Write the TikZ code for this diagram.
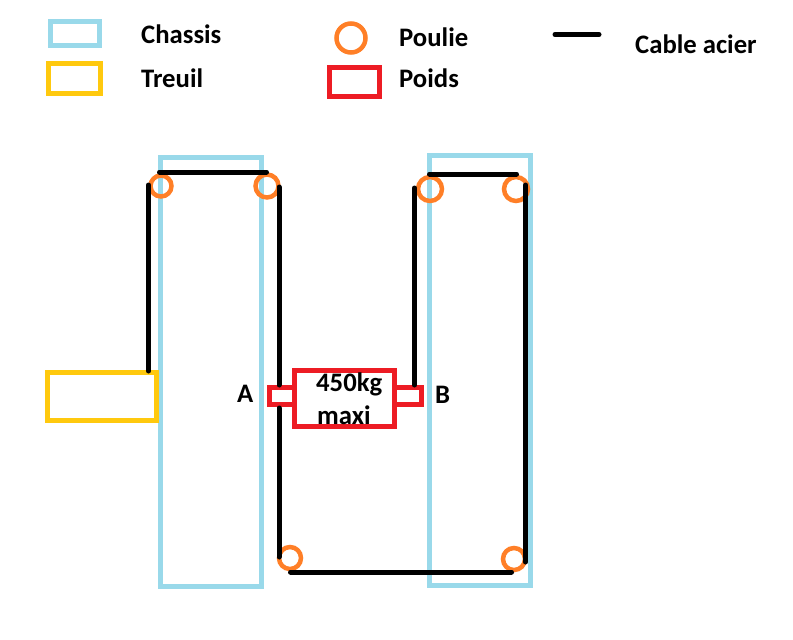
\documentclass[tikz,border=0pt]{standalone}
\usepackage{fontspec}
\setmainfont{Carlito}
\definecolor{chassisblue}{RGB}{153,217,234}
\definecolor{treuilgold}{RGB}{255,201,14}
\definecolor{poulieorange}{RGB}{255,127,39}
\definecolor{poidsred}{RGB}{237,28,36}
\tikzset{
  boxbase/.style={rectangle,inner sep=0pt,outer sep=0pt},
  chassis/.style={boxbase,draw=chassisblue,line width=5pt},
  treuil/.style={boxbase,draw=treuilgold,line width=5pt},
  poids/.style={boxbase,draw=poidsred,line width=5pt},
  poulie/.style={circle,inner sep=0pt,outer sep=0pt,draw=poulieorange,line width=4.5pt},
  cable/.style={line width=5pt,line cap=round},
  lbl/.style={anchor=base west,inner sep=0pt,font=\fontsize{26.7}{28}\selectfont\bfseries}
}
\begin{document}
\begin{tikzpicture}[x=1pt,y=-1pt]
  \useasboundingbox (0,0) rectangle (793,640);
  % legende
  \node[chassis,minimum width=49pt,minimum height=24pt] (legchassis) at (75,33.5) {};
  \node[treuil,minimum width=52pt,minimum height=30pt] (legtreuil) at (74.5,78.5) {};
  \node[poulie,minimum size=29pt] (legpoulie) at (351,38) {};
  \node[poids,minimum width=50pt,minimum height=29pt] (legpoids) at (354.5,82) {};
  \coordinate (legcablea) at (555,34.5);
  \coordinate (legcableb) at (599,34.5);
  \draw[cable] (legcablea) -- (legcableb);
  \node[lbl] (txtchassis) at (141,43) {Chassis};
  \node[lbl] (txttreuil) at (141,87) {Treuil};
  \node[lbl] (txtpoulie) at (399,46) {Poulie};
  \node[lbl] (txtpoids) at (399,87) {Poids};
  \node[lbl] (txtcable) at (635,53) {Cable acier};
  % chassis et treuil
  \node[chassis,minimum width=101pt,minimum height=428.5pt] (chassisg) at (211,371.75) {};
  \node[chassis,minimum width=101pt,minimum height=430pt] (chassisd) at (480,370.5) {};
  \node[treuil,minimum width=109pt,minimum height=48pt] (treuil) at (102,396.5) {};
  % poulies
  \node[poulie,minimum size=21pt] (pgh) at (161,186) {};
  \node[poulie,minimum size=23pt] (pdh) at (267,186) {};
  \node[poulie,minimum size=24pt] (pih) at (430,189) {};
  \node[poulie,minimum size=24pt] (pjh) at (516,189) {};
  \node[poulie,minimum size=22pt] (pib) at (290,558) {};
  \node[poulie,minimum size=22pt] (pjb) at (514,559) {};
  % poids
  \node[poids,minimum width=100pt,minimum height=55.5pt] (poids) at (344.5,398.25) {};
  \node[poids,minimum width=25pt,minimum height=17pt] (crochetA) at (282,396) {};
  \node[poids,minimum width=27pt,minimum height=17pt] (crochetB) at (408,396) {};
  \node[lbl] (charge) at (316,391) {450kg};
  \node[lbl] (maxi) at (317,424) {maxi};
  \node[lbl] (txtA) at (237,402) {A};
  \node[lbl] (txtB) at (435,403) {B};
  % cable
  \coordinate (c1) at (148.5,185);
  \coordinate (c2) at (148.5,371);
  \coordinate (c3) at (159.5,172);
  \coordinate (c4) at (266.5,172);
  \coordinate (c5) at (279,187);
  \coordinate (c6) at (279,385);
  \coordinate (c7) at (279,408);
  \coordinate (c8) at (279,557);
  \coordinate (c9) at (290.5,572);
  \coordinate (c10) at (511.5,572);
  \coordinate (c11) at (525.5,562);
  \coordinate (c12) at (525.5,185);
  \coordinate (c13) at (429.5,174);
  \coordinate (c14) at (516.5,174);
  \coordinate (c15) at (414.5,188);
  \coordinate (c16) at (414.5,385);
  \draw[cable] (c1) -- (c2);
  \draw[cable] (c3) -- (c4);
  \draw[cable] (c5) -- (c6);
  \draw[cable] (c7) -- (c8);
  \draw[cable] (c9) -- (c10);
  \draw[cable] (c11) -- (c12);
  \draw[cable] (c13) -- (c14);
  \draw[cable] (c15) -- (c16);
\end{tikzpicture}
\end{document}
